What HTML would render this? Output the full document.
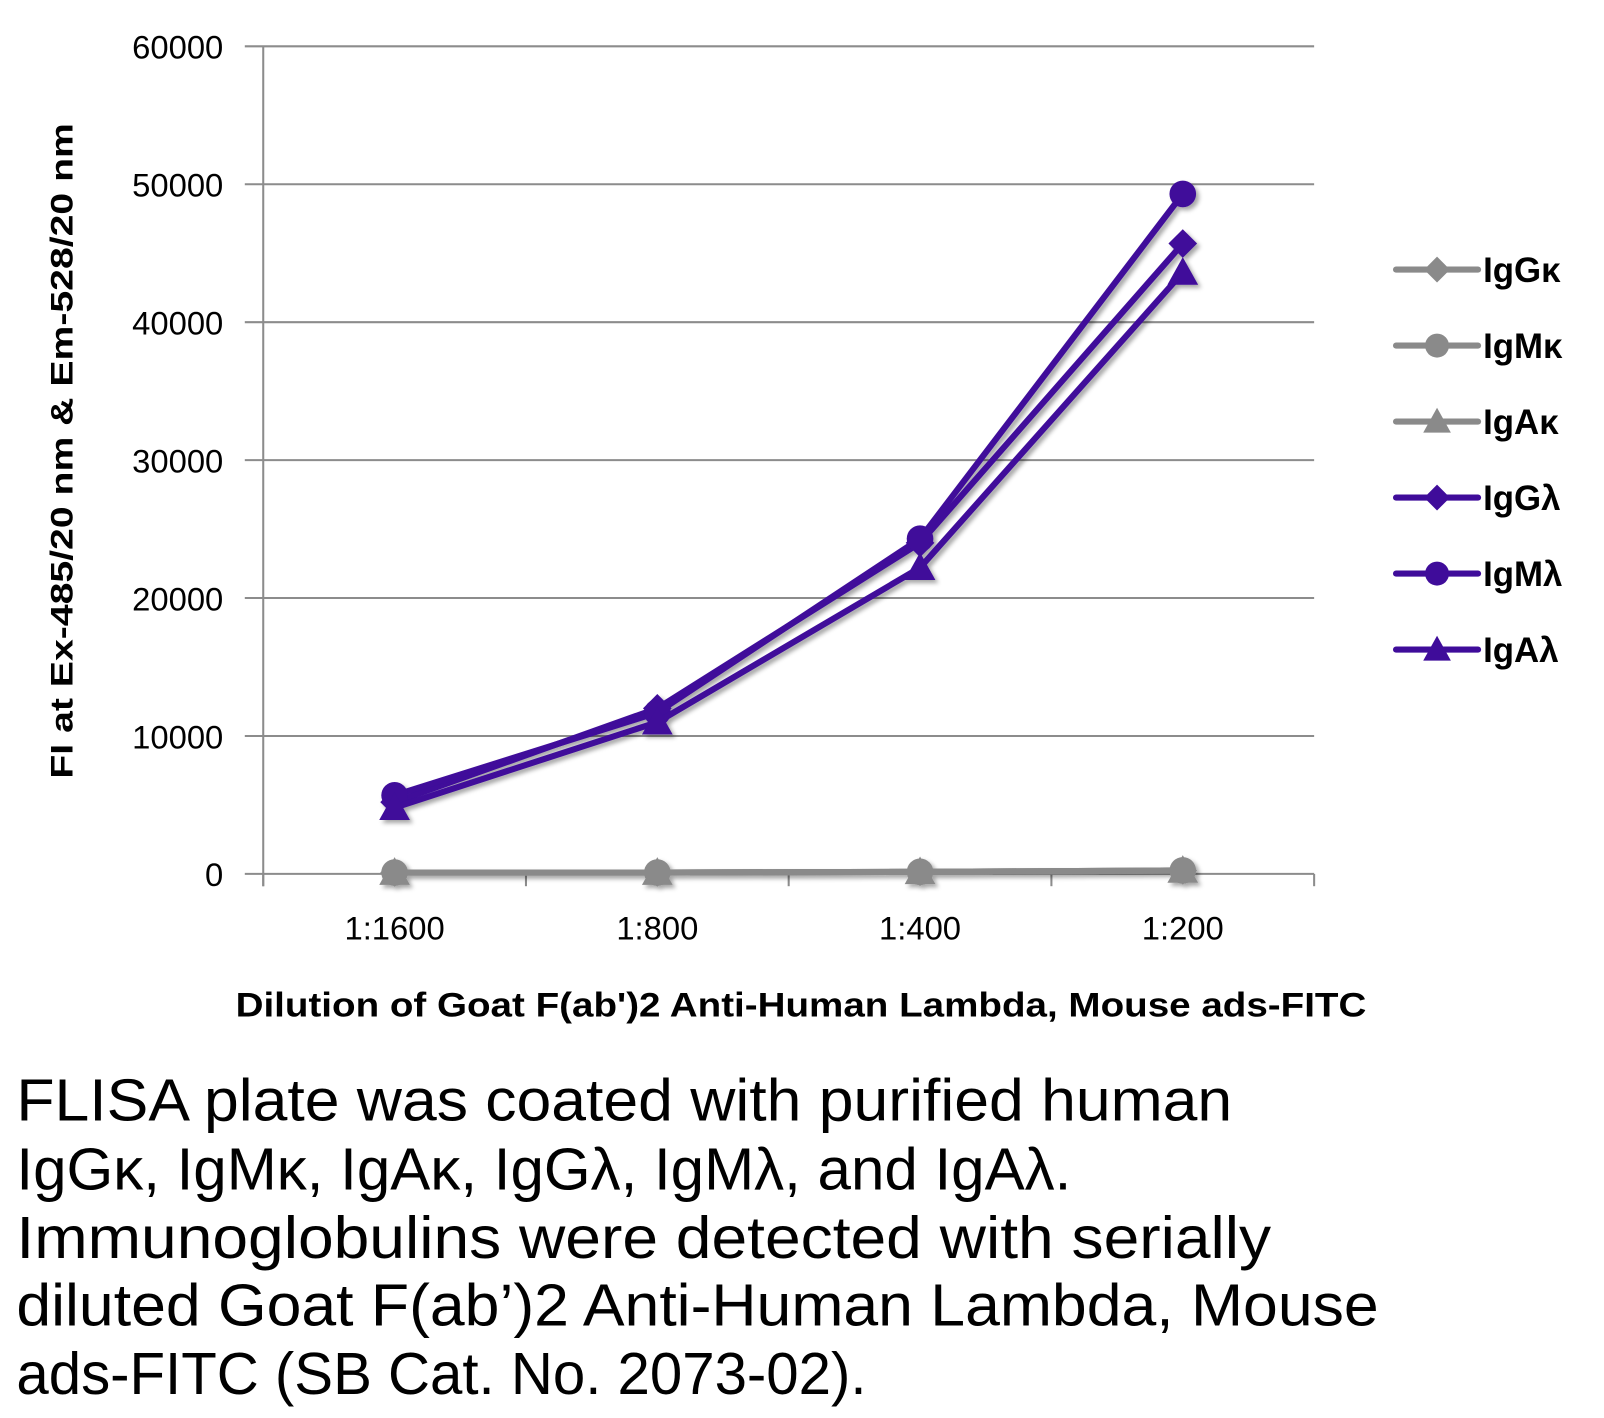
<!DOCTYPE html>
<html><head><meta charset="utf-8"><style>body{margin:0;background:#fff}svg{display:block}text{font-family:"Liberation Sans",sans-serif}</style></head>
<body>
<svg id="chart" width="1604" height="1418" viewBox="0 0 1566 1384">
<defs><filter id="sh" x="-20%" y="-20%" width="140%" height="140%"><feDropShadow dx="3" dy="3" stdDeviation="2" flood-color="#000" flood-opacity="0.35"/></filter></defs>
<g id="grid"></g><g id="axes"></g><g id="series" filter="url(#sh)"></g><g id="legend"></g>
<text transform="translate(71,440) rotate(-90)" text-anchor="middle" font-size="31" font-weight="bold" textLength="640" lengthAdjust="spacingAndGlyphs">FI at Ex-485/20 nm &amp; Em-528/20 nm</text>
<text x="782" y="992" text-anchor="middle" font-size="33" font-weight="bold" textLength="1104" lengthAdjust="spacingAndGlyphs">Dilution of Goat F(ab')2 Anti-Human Lambda, Mouse ads-FITC</text>
<g font-size="58">
<text x="16" y="1094" textLength="1187" lengthAdjust="spacingAndGlyphs">FLISA plate was coated with purified human</text>
<text x="16" y="1161" textLength="1030" lengthAdjust="spacingAndGlyphs">IgGκ, IgMκ, IgAκ, IgGλ, IgMλ, and IgAλ.</text>
<text x="16" y="1228" textLength="1225" lengthAdjust="spacingAndGlyphs">Immunoglobulins were detected with serially</text>
<text x="16" y="1294" textLength="1330" lengthAdjust="spacingAndGlyphs">diluted Goat F(ab’)2 Anti-Human Lambda, Mouse</text>
<text x="16" y="1361" textLength="830" lengthAdjust="spacingAndGlyphs">ads-FITC (SB Cat. No. 2073-02).</text>
</g>
</svg>
<script>
const categories=["1:1600","1:800","1:400","1:200"];
const yTicks=[0,10000,20000,30000,40000,50000,60000];
const seriesNames=["IgGκ","IgMκ","IgAκ","IgGλ","IgMλ","IgAλ"];
const seriesMarkers=["diamond","circle","triangle","diamond","circle","triangle"];
const IgGk=[100,100,150,250];
const IgMk=[100,100,150,250];
const IgAk=[100,100,150,250];
const IgGl=[5200,12000,24000,45700];
const IgMl=[5700,11700,24300,49300];
const IgAl=[4800,11000,22200,43600];
const seriesValues=[IgGk,IgMk,IgAk,IgGl,IgMl,IgAl];
const NS="http://www.w3.org/2000/svg";
const X0=257,X1=1283,Y0=853,Y1=45,YMAX=60000;
const cw=(X1-X0)/categories.length;
const xs=i=>X0+cw*(i+0.5);
const ys=v=>Y0-(v/YMAX)*(Y0-Y1);
function mk(tag,at,parent){const e=document.createElementNS(NS,tag);for(const k in at)e.setAttribute(k,at[k]);parent.appendChild(e);return e;}
const grid=document.getElementById('grid'),axes=document.getElementById('axes'),ser=document.getElementById('series'),leg=document.getElementById('legend');
yTicks.forEach(t=>{const y=ys(t);
 const l=mk('line',{x1:X0-18,x2:X1,y1:y,y2:y,stroke:'#8c8c8c','stroke-width':2},grid);
 
 const tx=mk('text',{x:218,y:y+12,'text-anchor':'end','font-size':32},axes);tx.textContent=t;
 });
const ya=mk('line',{x1:X0,x2:X0,y1:Y1,y2:Y0+12,stroke:'#8c8c8c','stroke-width':2},axes);

for(let i=0;i<=categories.length;i++){const x=X0+cw*i;const t=mk('line',{x1:x,x2:x,y1:Y0,y2:Y0+12,stroke:'#8c8c8c','stroke-width':2},axes);
 }
categories.forEach((c,i)=>{const t=mk('text',{x:xs(i),y:917,'text-anchor':'middle','font-size':32},axes);t.textContent=c;
 });
function marker(type,x,y,col,p,s){s=s||1;let e;
 if(type==='circle')e=mk('circle',{cx:x,cy:y,r:13*s,fill:col},p);
 else if(type==='diamond')e=mk('polygon',{points:`${x},${y-14*s} ${x+14*s},${y} ${x},${y+14*s} ${x-14*s},${y}`,fill:col},p);
 else e=mk('polygon',{points:`${x},${y-15*s} ${x+15*s},${y+12*s} ${x-15*s},${y+12*s}`,fill:col},p);
 return e;}
seriesValues.forEach((vals,si)=>{const col=si<3?'#8a8a8a':'#3f0c9a';
 const g=mk('g',{},ser);
 const pl=mk('polyline',{points:vals.map((v,i)=>xs(i)+','+ys(v)).join(' '),fill:'none',stroke:col,'stroke-width':6,'stroke-linejoin':'round'},g);
 
 vals.forEach((v,i)=>{const m=marker(seriesMarkers[si],xs(i),ys(v),col,g);
  });
 const ly=263+si*74.2;
 const lg=mk('g',{},leg);
 mk('line',{x1:1363,x2:1443,y1:ly,y2:ly,stroke:col,'stroke-width':6,'stroke-linecap':'round'},lg);
 marker(seriesMarkers[si],1403,ly,col,lg,0.9);
 const t=mk('text',{x:1448,y:ly+12,'font-size':34,'font-weight':'bold'},lg);t.textContent=seriesNames[si];});
</script>
</body></html>
